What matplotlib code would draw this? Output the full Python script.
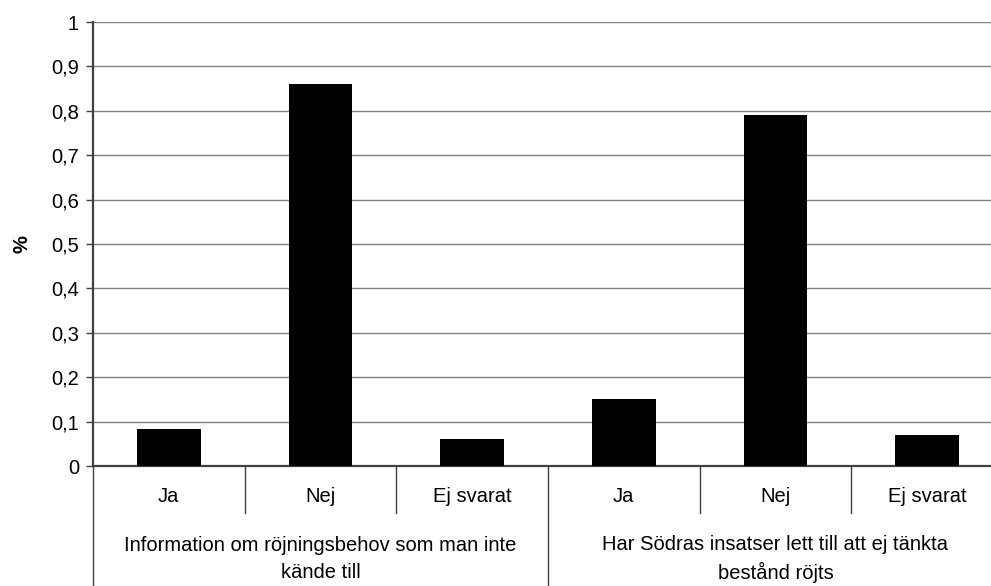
import numpy as np
import matplotlib
matplotlib.use("Agg")
import matplotlib.pyplot as plt
from matplotlib import transforms

plt.rcParams['font.family'] = ['Liberation Sans', 'DejaVu Sans']

groups = ['Information om röjningsbehov som man inte\nkände till',
          'Har Södras insatser lett till att ej tänkta\nbestånd röjts']
answers = ['Ja', 'Nej', 'Ej svarat']
values = [0.083, 0.86, 0.061, 0.151, 0.79, 0.07]
yticks = [0, 0.1, 0.2, 0.3, 0.4, 0.5, 0.6, 0.7, 0.8, 0.9, 1]
ytick_labels = ['0', '0,1', '0,2', '0,3', '0,4', '0,5', '0,6', '0,7', '0,8', '0,9', '1']

FS = 14.5
W, H = 991, 586
fig = plt.figure(figsize=(W / 100, H / 100), dpi=100)
left, right, top, zero = 93, 1003, 22, 466
ax = fig.add_axes([left / W, (H - zero) / H, (right - left) / W, (zero - top) / H])

x = np.arange(len(values))
ax.bar(x, values, width=0.42, color='black', zorder=3)
ax.set_xlim(-0.5, len(values) - 0.5)
ax.set_ylim(0, 1)
ax.set_yticks(yticks)
ax.set_yticklabels(ytick_labels, fontsize=FS)
ax.set_xticks([])
ax.yaxis.grid(True, color='#808080', linewidth=1, zorder=0)
ax.tick_params(axis='y', length=5, width=1, color='#404040', pad=5)
for s in ['top', 'right']:
    ax.spines[s].set_visible(False)
ax.spines['left'].set_color('#404040')
ax.spines['left'].set_linewidth(1.6)
ax.spines['bottom'].set_color('#404040')
ax.spines['bottom'].set_linewidth(1.6)
ax.set_ylabel('%', fontsize=FS, fontweight='bold', labelpad=14)

# category axis below the plot
trans = transforms.blended_transform_factory(ax.transData, ax.transAxes)
px = 1.0 / (zero - top)
for i in range(len(values) + 1):
    xb = i - 0.5
    if i % 3 == 0:
        ybot = -(H - zero) * px
    else:
        ybot = -(513 - zero) * px
    ax.plot([xb, xb], [0, ybot], color='#404040', linewidth=1, transform=trans, clip_on=False)

for i, v in enumerate(values):
    ax.text(i, -(497 - zero) * px, answers[i % 3], ha='center', va='center',
            fontsize=FS, transform=trans)

for g, name in enumerate(groups):
    ax.text(3 * g + 1, -(559 - zero) * px, name, ha='center', va='center',
            fontsize=FS, transform=trans, linespacing=1.5)

fig.savefig('out.png', dpi=100)
